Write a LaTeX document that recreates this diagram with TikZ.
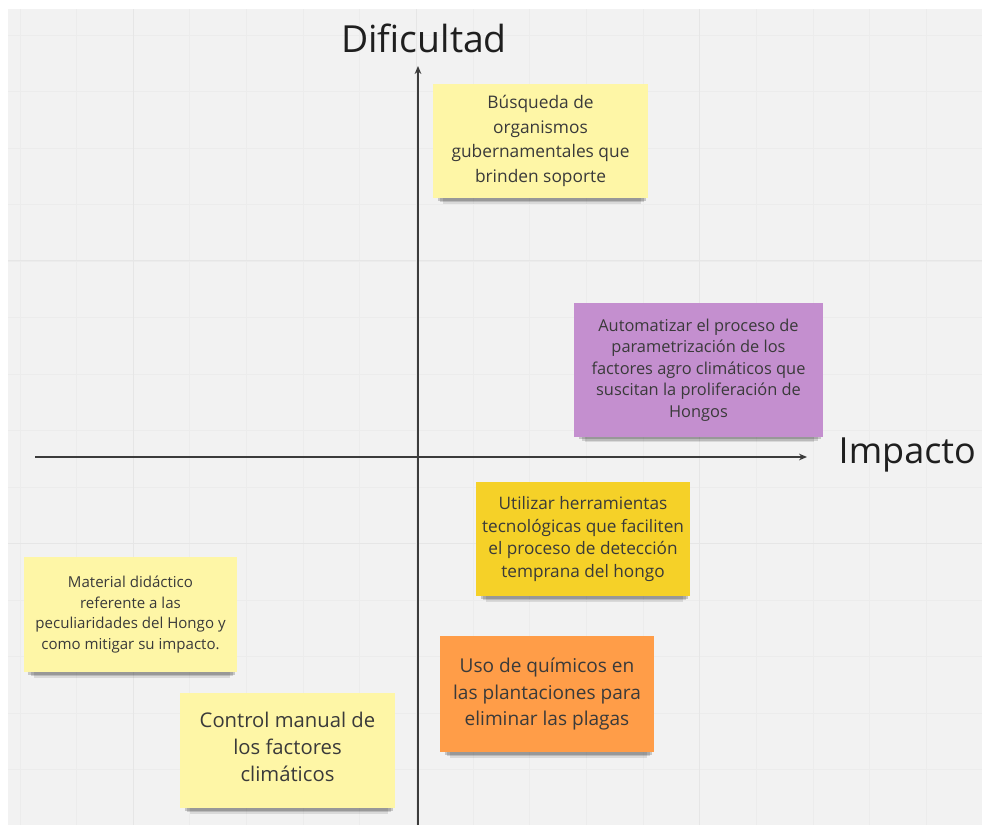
\documentclass[tikz,border=0pt]{standalone}
\usepackage{fontspec}
\setmainfont{Open Sans}
\usepackage{xcolor}
\usetikzlibrary{arrows.meta,shadows}

\definecolor{board}{HTML}{F2F2F2}
\definecolor{gridminor}{HTML}{ECECEC}
\definecolor{gridmajor}{HTML}{E6E6E6}
\definecolor{axisgray}{HTML}{3C3C3C}
\definecolor{notetext}{HTML}{3A3A3A}
\definecolor{lightyellow}{HTML}{FEF6A6}
\definecolor{stickyyellow}{HTML}{F5D128}
\definecolor{stickyorange}{HTML}{FF9D48}
\definecolor{stickyviolet}{HTML}{C48FCF}

\begin{document}
\begin{tikzpicture}[x=0.75pt, y=-0.75pt,
  softshadow/.style={
    drop shadow={shadow xshift=1pt, shadow yshift=-8.4pt, shadow scale=0.92, opacity=0.1, fill=black},
    drop shadow={shadow xshift=1pt, shadow yshift=-5.6pt, shadow scale=0.95, opacity=0.14, fill=black},
    drop shadow={shadow xshift=1pt, shadow yshift=-3.3pt, shadow scale=0.97, opacity=0.18, fill=black}},
  note/.style 2 args={align=center, inner sep=0pt, text=notetext,
    minimum width=#1*0.75pt, minimum height=#2*0.75pt, softshadow},
  axis/.style={draw=axisgray, line width=1.1pt, -{Stealth[length=6pt, width=5pt]}},
  gridline/.style={draw=gridminor, line width=0.7pt},
  label/.style={text=black!88}]
% board and grid
\useasboundingbox (0,0) rectangle (982,825);
\fill[white] (0,0) rectangle (982,825);
\fill[board] (8,9) rectangle (982,825);
\foreach \gx in {0,...,16}
  \draw[gridline] ({20+56.65*\gx},9) -- ({20+56.65*\gx},825);
\foreach \gy in {0,...,13}
  \draw[gridline] (8,{35+56.5*\gy}) -- (982,{35+56.5*\gy});
\foreach \gx in {133,416,699}
  \draw[gridline, draw=gridmajor] (\gx,9) -- (\gx,825);
\foreach \gy in {260,543}
  \draw[gridline, draw=gridmajor] (8,\gy) -- (982,\gy);

% axes
\coordinate (vbot) at (418,825);
\coordinate (vtop) at (418,66);
\coordinate (hleft) at (35,457);
\coordinate (hright) at (807,457);
\draw[axis] (vbot) -- (vtop);
\draw[axis] (hleft) -- (hright);
\node[label, font=\fontsize{28}{33}\selectfont] (dificultad) at (424,38) {Dificultad};
\node[label, font=\fontsize{27}{32}\selectfont, anchor=west] (impacto) at (834,455) {Impacto};

% sticky notes
\node[note={215}{114}, fill=lightyellow, font=\fontsize{13}{18.4}\selectfont] (busqueda) at (540.5,141)
  {Búsqueda de\\ organismos\\ gubernamentales que\\ brinden soporte};
\node[note={249}{134}, fill=stickyviolet, font=\fontsize{12.3}{16.1}\selectfont] (automatizar) at (698.5,370)
  {Automatizar el proceso de\\ parametrización de los\\ factores agro climáticos que\\ suscitan la proliferación de\\ Hongos};
\node[note={214}{114}, fill=stickyyellow, font=\fontsize{12.9}{17}\selectfont] (utilizar) at (583,539)
  {Utilizar herramientas\\ tecnológicas que faciliten\\ el proceso de detección\\ temprana del hongo};
\node[note={214}{116}, fill=stickyorange, font=\fontsize{14.3}{20}\selectfont] (quimicos) at (547,694)
  {Uso de químicos en\\ las plantaciones para\\ eliminar las plagas};
\node[note={213}{115}, fill=lightyellow, font=\fontsize{11.3}{15.4}\selectfont] (material) at (130.5,614.5)
  {Material didáctico\\ referente a las\\ peculiaridades del Hongo y\\ como mitigar su impacto.};
\node[note={215}{115}, fill=lightyellow, font=\fontsize{15.2}{20.2}\selectfont,
  text depth=6pt] (control) at (287.5,750.5)
  {Control manual de\\ los factores\\ climáticos};
\end{tikzpicture}
\end{document}
